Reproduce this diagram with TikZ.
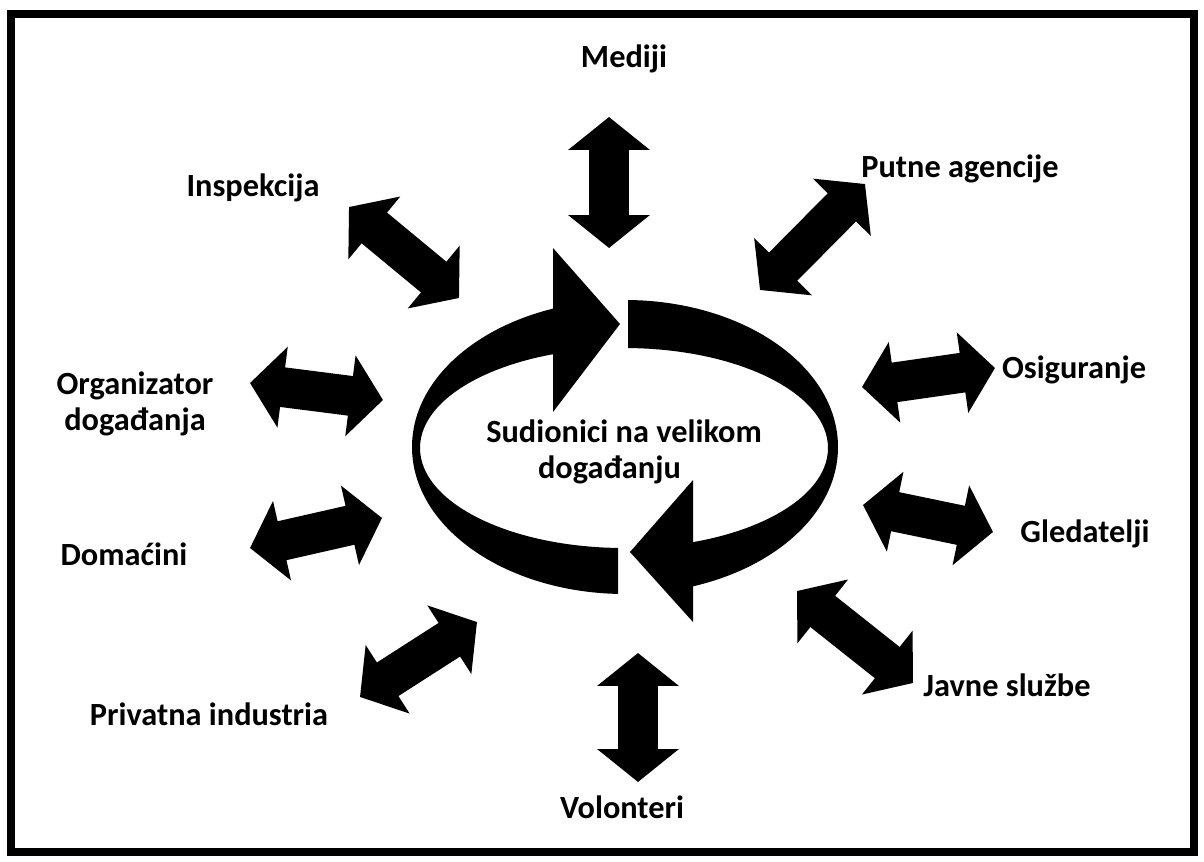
\documentclass[tikz,border=0pt]{standalone}
\usepackage{fontspec}
\setmainfont{Carlito}
\usetikzlibrary{arrows.meta}
\tikzset{
    party/.style={anchor=base, inner sep=0, align=center,
                  font=\fontsize{18.4}{20}\selectfont\bfseries},
    centretext/.style={anchor=center, inner sep=0, align=center,
                  font=\fontsize{18.4}{20.4}\selectfont\bfseries},
    spoke/.style={line width=22.7pt,
                  {Triangle[width=45.4pt, length=18.7pt]}-{Triangle[width=45.4pt, length=18.7pt]}},
    frame/.style={line width=4.5pt},
}
\begin{document}
\begin{tikzpicture}[x=0.02cm, y=-0.02cm]
        \useasboundingbox (0,0) rectangle (1204,862);
        \draw[frame] (11,14) rectangle (1194,852);
        %
        % Cycle in the middle
        \begin{scope}
            \clip (0,0) -- (553,0) -- (553,447) -- (618,447) -- (618,862) -- (0,862) -- cycle;
            \fill[even odd rule] (625,447) ellipse [x radius=213, y radius=147]
                                 (624,448) ellipse [x radius=204, y radius=100];
        \end{scope}
        \begin{scope}
            \clip (628,0) -- (1204,0) -- (1204,862) -- (693,862) -- (693,447) -- (628,447) -- cycle;
            \fill[even odd rule] (625,447) ellipse [x radius=213, y radius=147]
                                 (624,448) ellipse [x radius=204, y radius=100];
        \end{scope}
        \fill (553,248) -- (620,324) -- (553,412) -- cycle;
        \fill (693,480) -- (630,552) -- (693,622) -- cycle;
        \node[centretext] (centre) at (624,452) {Sudionici na velikom\\događanju\hspace*{0.9em}};
        %
        % Labels
        \node[party] (mediji) at (624,67) {Mediji};
        \node[party] (inspekcija) at (253,196) {Inspekcija};
        \node[party] (putne) at (960,177) {Putne agencije};
        \node[party] (organizator) at (135,430) {Organizator\\događanja};
        \node[party] (osiguranje) at (1074,378) {Osiguranje};
        \node[party] (domacini) at (124,565) {Domaćini};
        \node[party] (gledatelji) at (1085,542) {Gledatelji};
        \node[party] (privatna) at (209,725) {Privatna industria};
        \node[party] (javne) at (1007,696) {Javne službe};
        \node[party] (volonteri) at (622,818) {Volonteri};
        %
        % Spoke ends
        \coordinate (Sp1out) at (609,117);  \coordinate (Sp1in) at (609,248);
        \coordinate (Sp2out) at (349,207);  \coordinate (Sp2in) at (459,298);
        \coordinate (Sp3out) at (865,184);  \coordinate (Sp3in) at (760,290);
        \coordinate (Sp4out) at (250,383);  \coordinate (Sp4in) at (383,400);
        \coordinate (Sp5out) at (995,368);  \coordinate (Sp5in) at (862,387);
        \coordinate (Sp6out) at (250,548);  \coordinate (Sp6in) at (382,518);
        \coordinate (Sp7out) at (993,532);  \coordinate (Sp7in) at (863,505);
        \coordinate (Sp8out) at (360,697);  \coordinate (Sp8in) at (477,622);
        \coordinate (Sp9out) at (913,683);  \coordinate (Sp9in) at (797,591);
        \coordinate (Sp10out) at (638,782); \coordinate (Sp10in) at (638,653);
        %
        % Spokes
        \draw[spoke] (Sp1in) -- (Sp1out);
        \draw[spoke] (Sp2in) -- (Sp2out);
        \draw[spoke] (Sp3in) -- (Sp3out);
        \draw[spoke] (Sp4in) -- (Sp4out);
        \draw[spoke] (Sp5in) -- (Sp5out);
        \draw[spoke] (Sp6in) -- (Sp6out);
        \draw[spoke] (Sp7in) -- (Sp7out);
        \draw[spoke] (Sp8in) -- (Sp8out);
        \draw[spoke] (Sp9in) -- (Sp9out);
        \draw[spoke] (Sp10in) -- (Sp10out);
    \end{tikzpicture}
\end{document}
